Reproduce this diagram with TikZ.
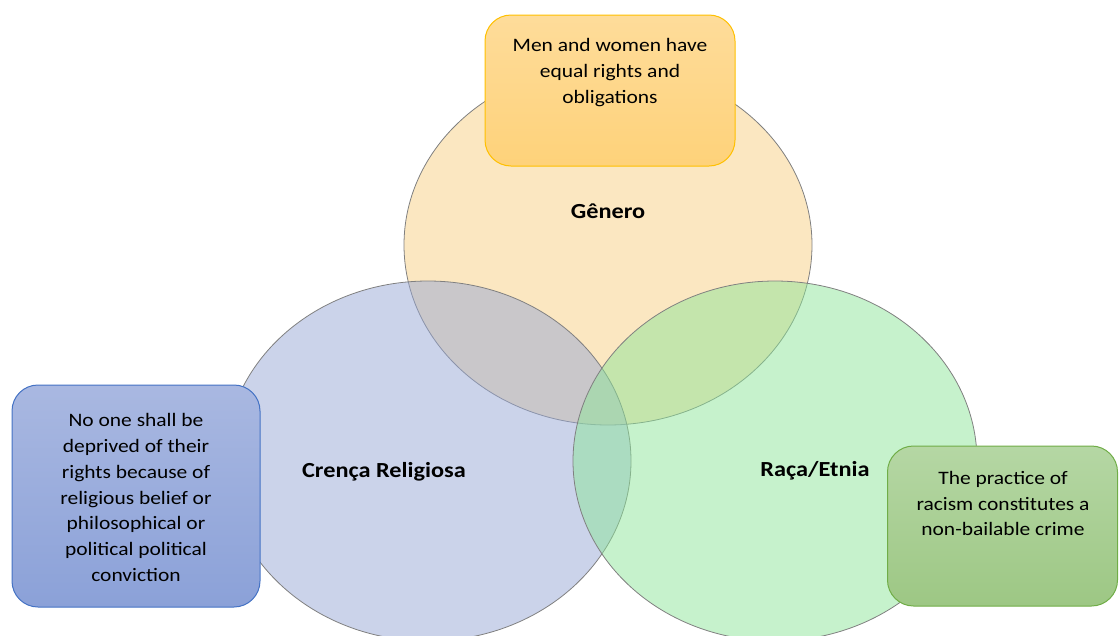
\documentclass[tikz,border=0pt]{standalone}
\usepackage{fontspec}
\setmainfont{Carlito}[FakeStretch=1.13]
\usetikzlibrary{positioning}
\definecolor{genfill}{HTML}{F7CF83}
\definecolor{crefill}{HTML}{97A7D5}
\definecolor{racfill}{HTML}{8DE599}
\definecolor{vennline}{HTML}{808080}
\definecolor{gentop}{HTML}{FEDC9A}
\definecolor{genbot}{HTML}{FED27A}
\definecolor{genline}{HTML}{FFC000}
\definecolor{cretop}{HTML}{A9B8E1}
\definecolor{crebot}{HTML}{8BA1D8}
\definecolor{creline}{HTML}{4472C4}
\definecolor{ractop}{HTML}{B5D7A4}
\definecolor{racbot}{HTML}{9DC784}
\definecolor{racline}{HTML}{70AD47}
\begin{document}
\begin{tikzpicture}[x=1pt,y=-1pt,
  venn/.style={draw=vennline,line width=0.8pt,fill opacity=0.5},
  note/.style={rounded corners=26pt,line width=1pt,inner sep=0pt},
  notetext/.style={align=center,inner sep=0pt,font=\fontsize{19}{25.7}\selectfont},
  setname/.style={inner sep=0pt,font=\fontsize{21.5}{24}\selectfont\bfseries}]
\useasboundingbox (0,0) rectangle (1119,635);
% the three sets
\draw[venn,fill=genfill](608,245) ellipse [x radius=204,y radius=180];
\draw[venn,fill=crefill](428,461) ellipse [x radius=203,y radius=180];
\draw[venn,fill=racfill](775,461) ellipse [x radius=202,y radius=180];
\node[setname] (genero) at (608,211) {Gênero};
\node[setname] (crenca) at (384,472) {Crença Religiosa};
\node[setname] (raca) at (815,471) {Raça/Etnia};
% notes
\node[note,draw=genline,top color=gentop,bottom color=genbot,
  minimum width=250,minimum height=151] (genbox) at (610,90.5) {};
\node[notetext] (gentext) at (610,72.5) {Men and women have\\equal rights and\\obligations};
\node[note,draw=creline,top color=cretop,bottom color=crebot,
  minimum width=248,minimum height=222] (crebox) at (136,496) {};
\node[notetext] (cretext) at (136,497.5) {No one shall be\\deprived of their\\rights because of\\religious belief or\\philosophical or\\political political\\conviction};
\node[note,draw=racline,top color=ractop,bottom color=racbot,
  minimum width=230,minimum height=160] (racbox) at (1002.5,526) {};
\node[notetext] (ractext) at (1003,503.5) {The practice of\\racism constitutes a\\non-bailable crime};
\end{tikzpicture}
\end{document}
